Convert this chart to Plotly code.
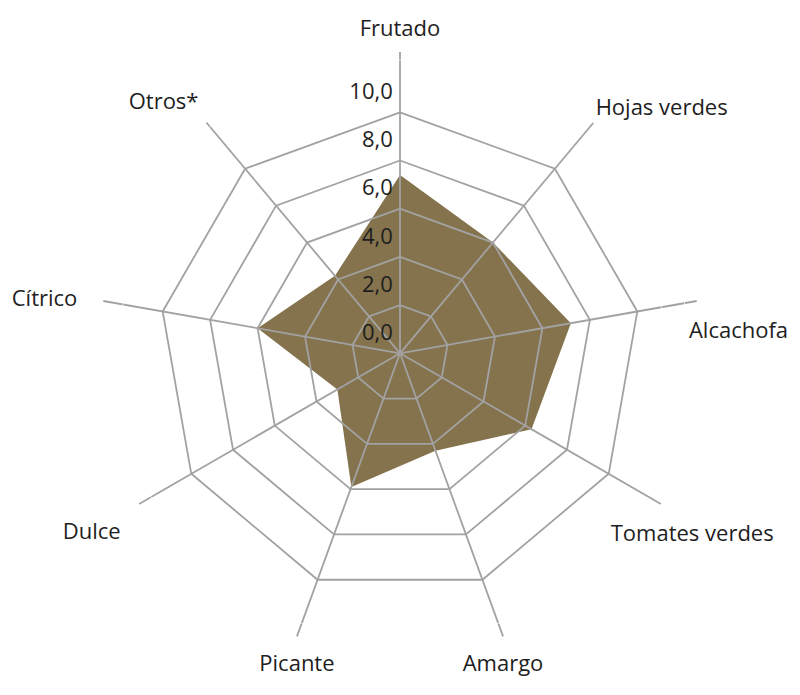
import plotly.graph_objects as go

categories = ["Frutado", "Hojas verdes", "Alcachofa", "Tomates verdes", "Amargo",
              "Picante", "Dulce", "Cítrico", "Otros*"]
values = [7.4, 6.0, 7.2, 6.3, 4.3, 5.9, 3.0, 6.0, 4.2]
ring_values = [2, 4, 6, 8, 10]
tick_values = [0, 2, 4, 6, 8, 10]
tick_labels = ["0,0", "2,0", "4,0", "6,0", "8,0", "10,0"]
spoke_length = 12.5
outer_range = 14.1

# label placement styles (anchor radius, position relative to anchor, gap as marker size)
label_radius = [12.5, 12.5, 11.5, 14.0, 12.5, 12.5, 12.5, 12.5, 12.5]
label_positions = ["top center", "top right", "bottom right", "bottom center", "bottom center",
                   "bottom center", "bottom left", "middle left", "top left"]
label_gaps = [16, 1.6, 24, 3.2, 28, 28, 28, 40, 11]

FILL = "#84734C"
GRID = "#A2A2A2"
TEXT = "#1E1E1E"
FONT = "Open Sans"
FS = 22

fig = go.Figure()

# data polygon
fig.add_trace(go.Scatterpolar(
    r=values + [values[0]], theta=categories + [categories[0]],
    mode="lines", fill="toself", fillcolor=FILL,
    line=dict(width=0, color=FILL), hoverinfo="skip", showlegend=False))

# rings (drawn above the fill)
rr, tt = [], []
for v in ring_values:
    rr += [v] * (len(categories) + 1) + [None]
    tt += categories + [categories[0]] + [None]
fig.add_trace(go.Scatterpolar(r=rr, theta=tt, mode="lines",
                              line=dict(color=GRID, width=1.8),
                              hoverinfo="skip", showlegend=False, connectgaps=False))

# spokes
sr, st = [], []
for c in categories:
    sr += [0, spoke_length, None]
    st += [c, c, None]
fig.add_trace(go.Scatterpolar(r=sr, theta=st, mode="lines",
                              line=dict(color=GRID, width=1.8),
                              hoverinfo="skip", showlegend=False, connectgaps=False))

# radial tick labels (tiny epsilon keeps the centre label inside the plot area test)
fig.add_trace(go.Scatterpolar(r=[v + 0.02 for v in tick_values],
                              theta=[categories[0]] * len(tick_values),
                              mode="markers+text", text=tick_labels, textposition="top left",
                              marker=dict(size=10, color="rgba(0,0,0,0)"),
                              textfont=dict(family=FONT, size=FS, color=TEXT),
                              cliponaxis=False, hoverinfo="skip", showlegend=False))

# category labels
fig.add_trace(go.Scatterpolar(r=label_radius, theta=categories,
                              mode="markers+text", text=categories,
                              textposition=label_positions,
                              marker=dict(size=label_gaps, color="rgba(0,0,0,0)"),
                              textfont=dict(family=FONT, size=FS, color=TEXT),
                              cliponaxis=False, hoverinfo="skip", showlegend=False))

cx, cy, px_per_unit = 400, 353.3, 24.1
R = outer_range * px_per_unit
W, H = 800, 695

fig.update_layout(
    width=W, height=H,
    margin=dict(l=0, r=0, t=0, b=0),
    paper_bgcolor="white", plot_bgcolor="white",
    font=dict(family=FONT, size=FS, color=TEXT),
    showlegend=False,
    polar=dict(
        domain=dict(x=[(cx - R) / W, (cx + R) / W],
                    y=[1 - (cy + R) / H, 1 - (cy - R) / H]),
        bgcolor="white",
        gridshape="linear",
        radialaxis=dict(range=[0, outer_range], showgrid=False, showline=False,
                        showticklabels=False, ticks=""),
        angularaxis=dict(rotation=90, direction="clockwise", showgrid=False,
                         showline=False, ticks="", showticklabels=False,
                         categoryorder="array", categoryarray=categories),
    ),
)

fig.write_html("out.html")
